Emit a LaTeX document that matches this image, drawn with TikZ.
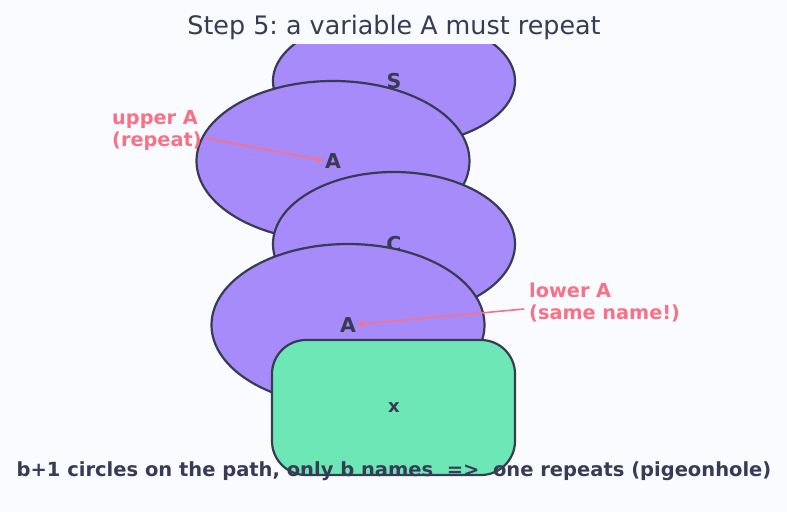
\documentclass[tikz,border=0pt]{standalone}
\usepackage{fontspec}
\setmainfont{DejaVu Sans}
\usetikzlibrary{shapes.geometric,arrows.meta}
\frenchspacing
\definecolor{bg}{HTML}{FAFBFE}
\definecolor{ink}{HTML}{383B55}
\definecolor{vio}{HTML}{A78BFA}
\definecolor{mint}{HTML}{6EE7B7}
\definecolor{rose}{HTML}{F87186}
\tikzset{
  blob/.style={ellipse, draw=ink, fill=vio, line width=2.2pt, inner sep=0pt},
  leaf/.style={rectangle, rounded corners=34pt, draw=ink, fill=mint, line width=2.2pt, inner sep=0pt, minimum width=243pt, minimum height=135pt},
  varname/.style={text=ink, font=\bfseries\fontsize{20.5}{24}\selectfont, inner sep=0pt},
  note/.style={text=rose, font=\bfseries\fontsize{19.3}{22}\selectfont, align=left, inner sep=0pt, anchor=west},
  pointer/.style={draw=rose, line width=1.6pt, -{Stealth[length=8pt,width=6.5pt]}},
}
\begin{document}
\begin{tikzpicture}[x=1pt,y=-1pt]
\fill[bg] (0,0) rectangle (787,512);
\useasboundingbox (0,0) rectangle (787,512);
\node[blob, minimum width=242pt, minimum height=130pt] (eS) at (394,81) {};
\node[varname] (lS) at (394,81.5) {S};
\node[blob, minimum width=273pt, minimum height=160pt] (eA1) at (333,161) {};
\node[varname] (lA1) at (333,161.5) {A};
\node[blob, minimum width=242pt, minimum height=144pt] (eC) at (394,244) {};
\node[varname] (lC) at (394,244.5) {C};
\node[blob, minimum width=273pt, minimum height=162pt] (eA2) at (348,325) {};
\node[varname] (lA2) at (348,325.5) {A};
\node[leaf] (box) at (393.5,407.5) {};
\node[varname, font=\bfseries\fontsize{18}{20}\selectfont] (lx) at (394,407.5) {x};
\fill[bg] (0,0) rectangle (787,44);
\node[text=ink, font=\fontsize{25.4}{30}\selectfont] (title) at (394,27) {Step 5: a variable A must repeat};
\node[note] (nup) at (112,130) {upper A\\(repeat)};
\node[note] (nlo) at (529,302) {lower A\\(same name!)};
\coordinate (sup1) at (205,138);
\coordinate (slo1) at (524,309);
\draw[pointer] (sup1) -- ([xshift=-1pt,yshift=1pt]lA1.west);
\draw[pointer] (slo1) -- ([xshift=1pt,yshift=1pt]lA2.east);
\node[text=ink, font=\bfseries\fontsize{19.5}{22}\selectfont] (foot) at (394,471) {b+1 circles on the path, only b names\ \ =>\ \ one repeats (pigeonhole)};
\end{tikzpicture}
\end{document}
